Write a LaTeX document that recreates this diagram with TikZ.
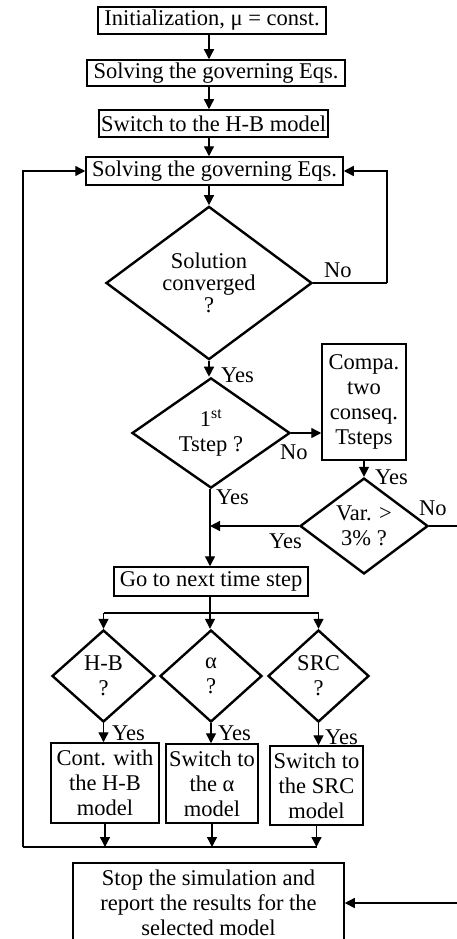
\documentclass[tikz,border=0pt]{standalone}
\usepackage{fontspec}
\setmainfont{Liberation Serif}
\usetikzlibrary{shapes.geometric,arrows.meta}
\begin{document}
\begin{tikzpicture}[x=1pt,y=-1pt,
  every node/.style={font=\fontsize{22.5}{25}\selectfont},
  box/.style={draw, line width=1.5pt, inner sep=0pt, align=center},
  dia/.style={draw, diamond, line width=2.4pt, inner sep=0pt, align=center},
  conn/.style={line width=1.4pt},
  arr/.style={conn, -{Triangle[length=10pt,width=10pt]}},
  lbl/.style={inner sep=0pt}]
\useasboundingbox (0,0) rectangle (456,939);

\node[box, minimum width=228pt, minimum height=27pt] (b1) at (212,20.5) {Initialization, μ = const.};
\node[box, minimum width=258pt, minimum height=26pt] (b2) at (216,73) {Solving the governing Eqs.};
\node[box, minimum width=229pt, minimum height=27pt] (b3) at (213.5,123.5) {Switch to the H-B model};
\node[box, minimum width=257pt, minimum height=28pt] (b4) at (214.5,171) {Solving the governing Eqs.};

\node[dia, minimum width=206pt, minimum height=139pt, font=\fontsize{22.5}{22}\selectfont] (d1) at (209,283) {Solution\\converged\\?};
\node[dia, minimum width=158pt, minimum height=93pt] (d2) at (211,433) {1\textsuperscript{st}\\Tstep ?};
\node[box, minimum width=84pt, minimum height=116pt] (cmp) at (364,402) {Compa.\\two\\conseq.\\Tsteps};
\node[dia, minimum width=128pt, minimum height=92pt] (d3) at (364,526) {Var. >\\3\% ?};

\node[box, minimum width=194pt, minimum height=29pt] (go) at (211,581.5) {Go to next time step};

\node[dia, minimum width=103pt, minimum height=92pt] (dhb) at (103.5,676) {H-B\\?};
\node[dia, minimum width=102pt, minimum height=92pt] (dal) at (211,676) {α\\?};
\node[dia, minimum width=101pt, minimum height=92pt] (dsrc) at (318.5,676) {SRC\\?};

\node[box, minimum width=108pt, minimum height=80pt] (bhb) at (105,783) {Cont. with\\the H-B\\model};
\node[box, minimum width=92pt, minimum height=79pt] (bal) at (212,783.5) {Switch to\\the α\\model};
\node[box, minimum width=93pt, minimum height=79pt] (bsrc) at (316.5,785.5) {Switch to\\the SRC\\model};

\node[box, minimum width=271pt, minimum height=80pt] (stop) at (208.5,903) {Stop the simulation and\\report the results for the\\selected model};

\coordinate (bl) at (23,847);
\coordinate (rr) at (387,283);
\coordinate (far) at (458,526);
\coordinate (jn) at (210,526);
\coordinate (split) at (210,613);

% main column
\draw[arr] (b1.south -| d1.center) -- (b2.north -| d1.center);
\draw[arr] (b2.south -| d1.center) -- (b3.north -| d1.center);
\draw[arr] (b3.south -| d1.center) -- (b4.north -| d1.center);
\draw[arr] (b4.south -| d1.center) -- (d1.north);
\draw[arr] (d1.south) -- (d1.south |- d2.north);
\draw[conn] (d1.east) -- (rr);
\draw[arr] (rr) |- (b4.east);
\draw[arr] (d2.east) -- (d2.east -| cmp.west);
\draw[arr] (cmp.south) -- (d3.north);
\draw[arr] (d3.west) -- (jn);
\draw[arr] (d2.south -| jn) -- (go.north -| jn);
\draw[conn] (d3.east) -- (far);
\draw[arr] (far) |- (stop.east);

% branches
\draw[conn] (go.south -| split) -- (split);
\draw[conn] (split -| dhb.north) -- (split -| dsrc.north);
\draw[arr] (split -| dhb.north) -- (dhb.north);
\draw[arr] (split) -- (split |- dal.north);
\draw[arr] (split -| dsrc.north) -- (dsrc.north);
\draw[arr] (dhb.south) -- (dhb.south |- bhb.north);
\draw[arr] (dal.south) -- (dal.south |- bal.north);
\draw[arr] (dsrc.south) -- (dsrc.south |- bsrc.north);
\draw[arr] (bhb.south) -- (bhb.south |- bl);
\draw[arr] (bal.south) -- (bal.south |- bl);
\draw[arr] (bsrc.south) -- (bsrc.south |- bl);
\draw[conn] (bsrc.south |- bl) -- (bl);
\draw[arr] (bl) |- (b4.west);

% labels
\node[lbl, anchor=west] (l1) at (324,270) {No};
\node[lbl, anchor=west] (l2) at (221,375) {Yes};
\node[lbl, anchor=west] (l3) at (280,452) {No};
\node[lbl, anchor=west] (l4) at (375,477) {Yes};
\node[lbl, anchor=west] (l5) at (419,508) {No};
\node[lbl, anchor=west] (l6) at (269,541) {Yes};
\node[lbl, anchor=west] (l7) at (216,497) {Yes};
\node[lbl, anchor=west] (l8) at (112,733) {Yes};
\node[lbl, anchor=west] (l9) at (218,733) {Yes};
\node[lbl, anchor=west] (l10) at (325,737) {Yes};
\end{tikzpicture}
\end{document}
